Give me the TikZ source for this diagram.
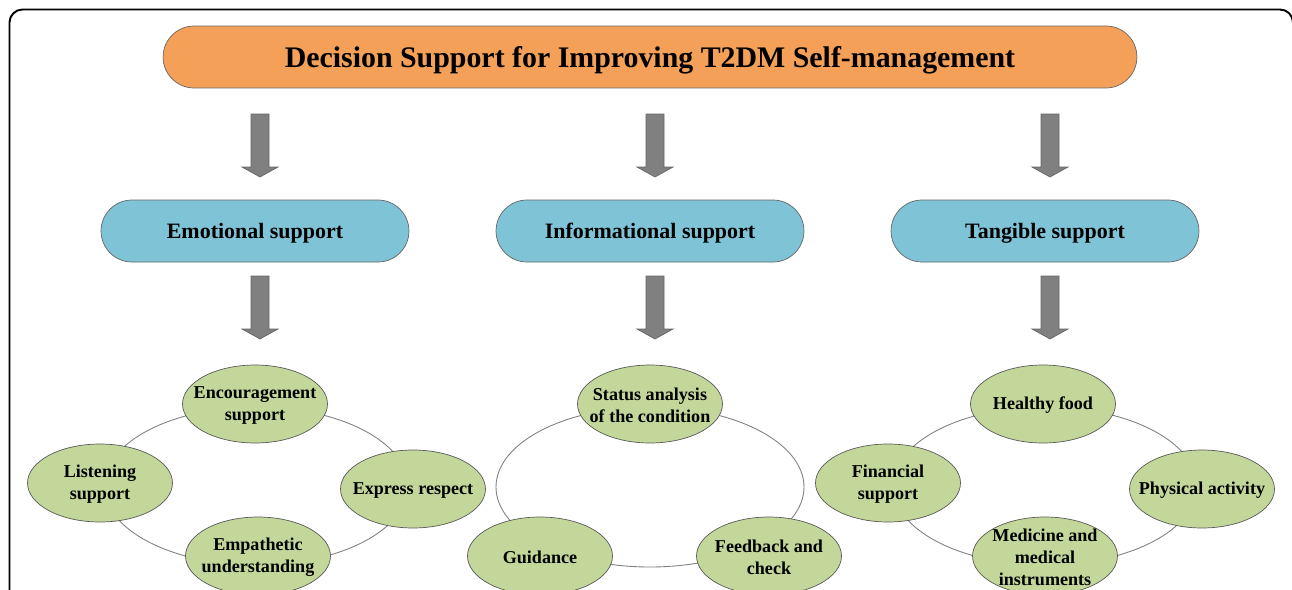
\documentclass[tikz,border=0pt]{standalone}
\usepackage{fontspec}
\setmainfont{Liberation Serif}
\usetikzlibrary{shapes.geometric}
\definecolor{titleorange}{RGB}{245,160,88}
\definecolor{pillblue}{RGB}{127,195,214}
\definecolor{itemgreen}{RGB}{196,215,155}
\definecolor{arrowgray}{RGB}{128,128,128}

\begin{document}
\begin{tikzpicture}[x=0.02cm,y=-0.02cm]

    \tikzset{
      pill/.style={
        draw=black!60,
        rounded corners=0.62cm,
        minimum height=1.24cm,
        inner sep=0pt,
        text depth=0pt,
        font=\bfseries\fontsize{12.5}{15}\selectfont,
      },
      toppill/.style={pill, fill=titleorange, minimum width=19.48cm,
        font=\bfseries\fontsize{17}{20}\selectfont},
      sidepill/.style={pill, fill=pillblue, minimum width=6.16cm},
      item/.style={
        ellipse,
        draw=black!65,
        fill=itemgreen,
        minimum width=2.9cm,
        minimum height=1.56cm,
        inner sep=0pt,
      },
      itemtext/.style={align=center, inner sep=0pt, yshift=-0.03cm,
        font=\bfseries\fontsize{10.3}{12.5}\selectfont},
      ring/.style={draw=black!50, line width=0.5pt},
      blockarrow/.style={draw=black!60, fill=arrowgray},
    }
    \useasboundingbox (0,0) rectangle (1292,589);
    \clip (0,0) rectangle (1292,589);
    \draw[line width=1.1pt, rounded corners=0.26cm] (9.5,9.5) rectangle (1293,640);

    \node[toppill] (title) at (650,57) {Decision Support for Improving T2DM Self-management};

    \node[sidepill] (emo) at (255,231) {Emotional support};
    \node[sidepill] (info) at (650,231) {Informational support};
    \node[sidepill] (tang) at (1045,231) {Tangible support};

    \foreach \x in {260,655,1050} {
      \draw[blockarrow] (\x-9,114) -- (\x+9,114) -- (\x+9,167) -- (\x+18,167)
        -- (\x,177) -- (\x-18,167) -- (\x-9,167) -- cycle;
      \draw[blockarrow] (\x-9,276) -- (\x+9,276) -- (\x+9,329) -- (\x+18,329)
        -- (\x,339) -- (\x-18,329) -- (\x-9,329) -- cycle;
    }

    \draw[ring] (256,486) ellipse (152 and 79);
    \draw[ring] (650,487) ellipse (154 and 80);
    \draw[ring] (1045,486) ellipse (152 and 79);

    \node[item, label={[itemtext]center:Encouragement\\support}] (enc) at (255,404) {};
    \node[item, label={[itemtext]center:Listening\\support}] (lis) at (100,483) {};
    \node[item, label={[itemtext]center:Express respect}] (res) at (413,489) {};
    \node[item, label={[itemtext]center:Empathetic\\understanding}] (emp) at (258,556) {};

    \node[item, label={[itemtext]center:Status analysis\\of the condition}] (sta) at (650,404) {};
    \node[item, label={[itemtext]center:Guidance}] (gui) at (540,556) {};
    \node[item, label={[itemtext]center:Feedback and\\check}] (fee) at (769,556) {};

    \node[item, label={[itemtext]center:Healthy food}] (hea) at (1043,404) {};
    \node[item, label={[itemtext]center:Financial\\support}] (fin) at (888,483) {};
    \node[item, label={[itemtext]center:Physical activity}] (phy) at (1202,489) {};
    \node[item, label={[itemtext]center:Medicine and\\medical\\instruments}] (med) at (1045,556) {};

\end{tikzpicture}
\end{document}
